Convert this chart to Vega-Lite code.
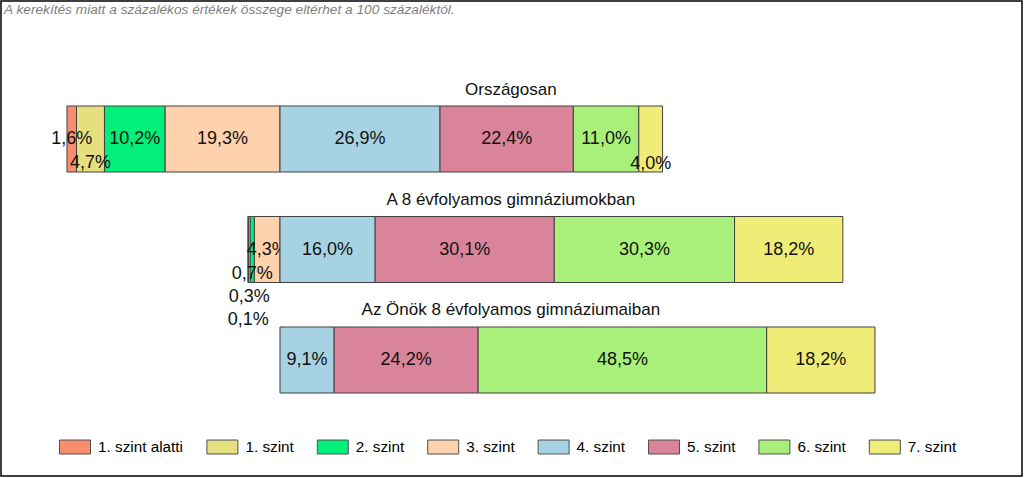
{
  "$schema": "https://vega.github.io/schema/vega-lite/v6.json",
  "width": 1021,
  "height": 475,
  "autosize": {"type": "none"},
  "padding": {"left": 1, "top": 1, "right": 2, "bottom": 2},
  "background": "white",
  "config": {
    "view": {"stroke": "#000000", "strokeWidth": 1.5},
    "font": "Liberation Sans"
  },
  "title": {
    "text": "A kerekítés miatt a  százalékos értékek összege eltérhet a 100 százaléktól.",
    "anchor": "start",
    "frame": "group",
    "orient": "top",
    "offset": -27,
    "dx": 3,
    "fontSize": 13.7,
    "fontStyle": "italic",
    "fontWeight": "normal",
    "color": "#7f7f7f",
    "font": "Liberation Sans",
    "baseline": "alphabetic"
  },
  "datasets": {
    "d": [
      {"group": "Országosan", "level": "1. szint alatti", "lvl": 0, "pct": 1.6},
      {"group": "Országosan", "level": "1. szint", "lvl": 1, "pct": 4.7},
      {"group": "Országosan", "level": "2. szint", "lvl": 2, "pct": 10.2},
      {"group": "Országosan", "level": "3. szint", "lvl": 3, "pct": 19.3},
      {"group": "Országosan", "level": "4. szint", "lvl": 4, "pct": 26.9},
      {"group": "Országosan", "level": "5. szint", "lvl": 5, "pct": 22.4},
      {"group": "Országosan", "level": "6. szint", "lvl": 6, "pct": 11.0},
      {"group": "Országosan", "level": "7. szint", "lvl": 7, "pct": 4.0},
      {"group": "A 8 évfolyamos gimnáziumokban", "level": "1. szint alatti", "lvl": 0, "pct": 0.1},
      {"group": "A 8 évfolyamos gimnáziumokban", "level": "1. szint", "lvl": 1, "pct": 0.3},
      {"group": "A 8 évfolyamos gimnáziumokban", "level": "2. szint", "lvl": 2, "pct": 0.7},
      {"group": "A 8 évfolyamos gimnáziumokban", "level": "3. szint", "lvl": 3, "pct": 4.3},
      {"group": "A 8 évfolyamos gimnáziumokban", "level": "4. szint", "lvl": 4, "pct": 16.0},
      {"group": "A 8 évfolyamos gimnáziumokban", "level": "5. szint", "lvl": 5, "pct": 30.1},
      {"group": "A 8 évfolyamos gimnáziumokban", "level": "6. szint", "lvl": 6, "pct": 30.3},
      {"group": "A 8 évfolyamos gimnáziumokban", "level": "7. szint", "lvl": 7, "pct": 18.2},
      {"group": "Az Önök 8 évfolyamos gimnáziumaiban", "level": "4. szint", "lvl": 4, "pct": 9.1},
      {"group": "Az Önök 8 évfolyamos gimnáziumaiban", "level": "5. szint", "lvl": 5, "pct": 24.2},
      {"group": "Az Önök 8 évfolyamos gimnáziumaiban", "level": "6. szint", "lvl": 6, "pct": 48.5},
      {"group": "Az Önök 8 évfolyamos gimnáziumaiban", "level": "7. szint", "lvl": 7, "pct": 18.2}
    ]
  },
  "data": {"name": "d"},
  "layer": [
    {
      "transform": [
        {"filter": "datum.lvl <= 3"},
        {"stack": "pct", "groupby": ["group"], "sort": [{"field": "lvl", "order": "descending"}], "as": ["x0", "x1"]}
      ],
      "layer": [
        {
          "mark": {"type": "bar", "stroke": "#404040", "strokeWidth": 1},
          "encoding": {
            "x": {"field": "x0", "type": "quantitative", "axis": null, "scale": {"domain": [-124.71, 46.89], "reverse": true, "nice": false, "zero": false}},
            "x2": {"field": "x1"},
            "y": {"field": "group", "type": "nominal", "axis": null, "scale": {"domain": ["Országosan", "A 8 évfolyamos gimnáziumokban", "Az Önök 8 évfolyamos gimnáziumaiban"], "range": [105, 392], "paddingInner": 0.4027, "paddingOuter": 0}},
            "color": {
              "field": "level", "type": "nominal",
              "scale": {
                "domain": ["1. szint alatti", "1. szint", "2. szint", "3. szint", "4. szint", "5. szint", "6. szint", "7. szint"],
                "range": ["#F98E6C", "#E6DF80", "#02F07A", "#FDD2AD", "#A6D2E3", "#D9849A", "#A8F07A", "#F0EC78"]
              },
              "legend": {
                "title": null, "orient": "none", "legendX": 58, "legendY": 430, "direction": "horizontal",
                "symbolType": "M-1,-0.45H1V0.45H-1Z", "symbolSize": 961, "symbolStrokeColor": "#505050", "symbolStrokeWidth": 1, "symbolOpacity": 1,
                "labelFontSize": 15.3, "labelFont": "Liberation Sans", "labelColor": "#000000", "labelOffset": 7, "columnPadding": 20.4, "padding": 0
              }
            }
          }
        },
        {
          "transform": [
            {"fold": ["x0", "x1"], "as": ["edge", "xv"]},
            {"aggregate": [{"op": "mean", "field": "xv", "as": "xc"}], "groupby": ["group", "level", "lvl", "pct"]},
            {"filter": "!((datum.group == 'Országosan' && datum.lvl == 1) || (datum.group == 'A 8 évfolyamos gimnáziumokban' && datum.lvl <= 2))"}
          ],
          "mark": {"type": "text", "fontSize": 18, "font": "Liberation Sans", "color": "#111111", "baseline": "middle", "align": "center", "dy": 0, "text": {"expr": "replace(format(datum.pct, '.1f'), '.', ',') + '%'"}},
          "encoding": {
            "x": {"field": "xc", "type": "quantitative", "axis": null, "scale": {"domain": [-124.71, 46.89], "reverse": true, "nice": false, "zero": false}},
            "y": {"field": "group", "type": "nominal", "axis": null, "scale": {"domain": ["Országosan", "A 8 évfolyamos gimnáziumokban", "Az Önök 8 évfolyamos gimnáziumaiban"], "range": [105, 392], "paddingInner": 0.4027, "paddingOuter": 0}}
          }
        },
        {
          "transform": [
            {"fold": ["x0", "x1"], "as": ["edge", "xv"]},
            {"aggregate": [{"op": "mean", "field": "xv", "as": "xc"}], "groupby": ["group", "level", "lvl", "pct"]},
            {"filter": "(datum.group == 'Országosan' && datum.lvl == 1) || (datum.group == 'A 8 évfolyamos gimnáziumokban' && datum.lvl == 2)"}
          ],
          "mark": {"type": "text", "fontSize": 18, "font": "Liberation Sans", "color": "#111111", "baseline": "middle", "align": "center", "dy": 24, "text": {"expr": "replace(format(datum.pct, '.1f'), '.', ',') + '%'"}},
          "encoding": {
            "x": {"field": "xc", "type": "quantitative", "axis": null, "scale": {"domain": [-124.71, 46.89], "reverse": true, "nice": false, "zero": false}},
            "y": {"field": "group", "type": "nominal", "axis": null, "scale": {"domain": ["Országosan", "A 8 évfolyamos gimnáziumokban", "Az Önök 8 évfolyamos gimnáziumaiban"], "range": [105, 392], "paddingInner": 0.4027, "paddingOuter": 0}}
          }
        },
        {
          "transform": [
            {"fold": ["x0", "x1"], "as": ["edge", "xv"]},
            {"aggregate": [{"op": "mean", "field": "xv", "as": "xc"}], "groupby": ["group", "level", "lvl", "pct"]},
            {"filter": "datum.group == 'A 8 évfolyamos gimnáziumokban' && datum.lvl == 1"}
          ],
          "mark": {"type": "text", "fontSize": 18, "font": "Liberation Sans", "color": "#111111", "baseline": "middle", "align": "center", "dy": 47, "text": {"expr": "replace(format(datum.pct, '.1f'), '.', ',') + '%'"}},
          "encoding": {
            "x": {"field": "xc", "type": "quantitative", "axis": null, "scale": {"domain": [-124.71, 46.89], "reverse": true, "nice": false, "zero": false}},
            "y": {"field": "group", "type": "nominal", "axis": null, "scale": {"domain": ["Országosan", "A 8 évfolyamos gimnáziumokban", "Az Önök 8 évfolyamos gimnáziumaiban"], "range": [105, 392], "paddingInner": 0.4027, "paddingOuter": 0}}
          }
        },
        {
          "transform": [
            {"fold": ["x0", "x1"], "as": ["edge", "xv"]},
            {"aggregate": [{"op": "mean", "field": "xv", "as": "xc"}], "groupby": ["group", "level", "lvl", "pct"]},
            {"filter": "datum.group == 'A 8 évfolyamos gimnáziumokban' && datum.lvl == 0"}
          ],
          "mark": {"type": "text", "fontSize": 18, "font": "Liberation Sans", "color": "#111111", "baseline": "middle", "align": "center", "dy": 70, "text": {"expr": "replace(format(datum.pct, '.1f'), '.', ',') + '%'"}},
          "encoding": {
            "x": {"field": "xc", "type": "quantitative", "axis": null, "scale": {"domain": [-124.71, 46.89], "reverse": true, "nice": false, "zero": false}},
            "y": {"field": "group", "type": "nominal", "axis": null, "scale": {"domain": ["Országosan", "A 8 évfolyamos gimnáziumokban", "Az Önök 8 évfolyamos gimnáziumaiban"], "range": [105, 392], "paddingInner": 0.4027, "paddingOuter": 0}}
          }
        }
      ]
    },
    {
      "transform": [
        {"filter": "datum.lvl >= 4"},
        {"stack": "pct", "groupby": ["group"], "sort": [{"field": "lvl", "order": "ascending"}], "as": ["x0", "x1"]}
      ],
      "layer": [
        {
          "mark": {"type": "bar", "stroke": "#404040", "strokeWidth": 1},
          "encoding": {
            "x": {"field": "x0", "type": "quantitative", "axis": null, "scale": {"domain": [-46.89, 124.71], "nice": false, "zero": false}},
            "x2": {"field": "x1"},
            "y": {"field": "group", "type": "nominal", "axis": null, "scale": {"domain": ["Országosan", "A 8 évfolyamos gimnáziumokban", "Az Önök 8 évfolyamos gimnáziumaiban"], "range": [105, 392], "paddingInner": 0.4027, "paddingOuter": 0}},
            "color": {
              "field": "level", "type": "nominal",
              "scale": {
                "domain": ["1. szint alatti", "1. szint", "2. szint", "3. szint", "4. szint", "5. szint", "6. szint", "7. szint"],
                "range": ["#F98E6C", "#E6DF80", "#02F07A", "#FDD2AD", "#A6D2E3", "#D9849A", "#A8F07A", "#F0EC78"]
              },
              "legend": {
                "title": null, "orient": "none", "legendX": 58, "legendY": 430, "direction": "horizontal",
                "symbolType": "M-1,-0.45H1V0.45H-1Z", "symbolSize": 961, "symbolStrokeColor": "#505050", "symbolStrokeWidth": 1, "symbolOpacity": 1,
                "labelFontSize": 15.3, "labelFont": "Liberation Sans", "labelColor": "#000000", "labelOffset": 7, "columnPadding": 20.4, "padding": 0
              }
            }
          }
        },
        {
          "transform": [
            {"fold": ["x0", "x1"], "as": ["edge", "xv"]},
            {"aggregate": [{"op": "mean", "field": "xv", "as": "xc"}], "groupby": ["group", "level", "lvl", "pct"]},
            {"filter": "!(datum.group == 'Országosan' && datum.lvl == 7)"}
          ],
          "mark": {"type": "text", "fontSize": 18, "font": "Liberation Sans", "color": "#111111", "baseline": "middle", "align": "center", "dy": 0, "text": {"expr": "replace(format(datum.pct, '.1f'), '.', ',') + '%'"}},
          "encoding": {
            "x": {"field": "xc", "type": "quantitative", "axis": null, "scale": {"domain": [-46.89, 124.71], "nice": false, "zero": false}},
            "y": {"field": "group", "type": "nominal", "axis": null, "scale": {"domain": ["Országosan", "A 8 évfolyamos gimnáziumokban", "Az Önök 8 évfolyamos gimnáziumaiban"], "range": [105, 392], "paddingInner": 0.4027, "paddingOuter": 0}}
          }
        },
        {
          "transform": [
            {"fold": ["x0", "x1"], "as": ["edge", "xv"]},
            {"aggregate": [{"op": "mean", "field": "xv", "as": "xc"}], "groupby": ["group", "level", "lvl", "pct"]},
            {"filter": "datum.group == 'Országosan' && datum.lvl == 7"}
          ],
          "mark": {"type": "text", "fontSize": 18, "font": "Liberation Sans", "color": "#111111", "baseline": "middle", "align": "center", "dy": 25, "text": {"expr": "replace(format(datum.pct, '.1f'), '.', ',') + '%'"}},
          "encoding": {
            "x": {"field": "xc", "type": "quantitative", "axis": null, "scale": {"domain": [-46.89, 124.71], "nice": false, "zero": false}},
            "y": {"field": "group", "type": "nominal", "axis": null, "scale": {"domain": ["Országosan", "A 8 évfolyamos gimnáziumokban", "Az Önök 8 évfolyamos gimnáziumaiban"], "range": [105, 392], "paddingInner": 0.4027, "paddingOuter": 0}}
          }
        },
        {
          "transform": [
            {"aggregate": [{"op": "count", "as": "n"}], "groupby": ["group"]}
          ],
          "mark": {"type": "text", "fontSize": 17, "font": "Liberation Sans", "color": "#111111", "baseline": "middle", "align": "center", "dy": -49.5},
          "encoding": {
            "text": {"field": "group", "type": "nominal"},
            "x": {"datum": 38.8, "type": "quantitative", "axis": null, "scale": {"domain": [-46.89, 124.71], "nice": false, "zero": false}},
            "y": {"field": "group", "type": "nominal", "axis": null, "scale": {"domain": ["Országosan", "A 8 évfolyamos gimnáziumokban", "Az Önök 8 évfolyamos gimnáziumaiban"], "range": [105, 392], "paddingInner": 0.4027, "paddingOuter": 0}}
          }
        }
      ]
    }
  ],
  "resolve": {"scale": {"x": "independent"}}
}
